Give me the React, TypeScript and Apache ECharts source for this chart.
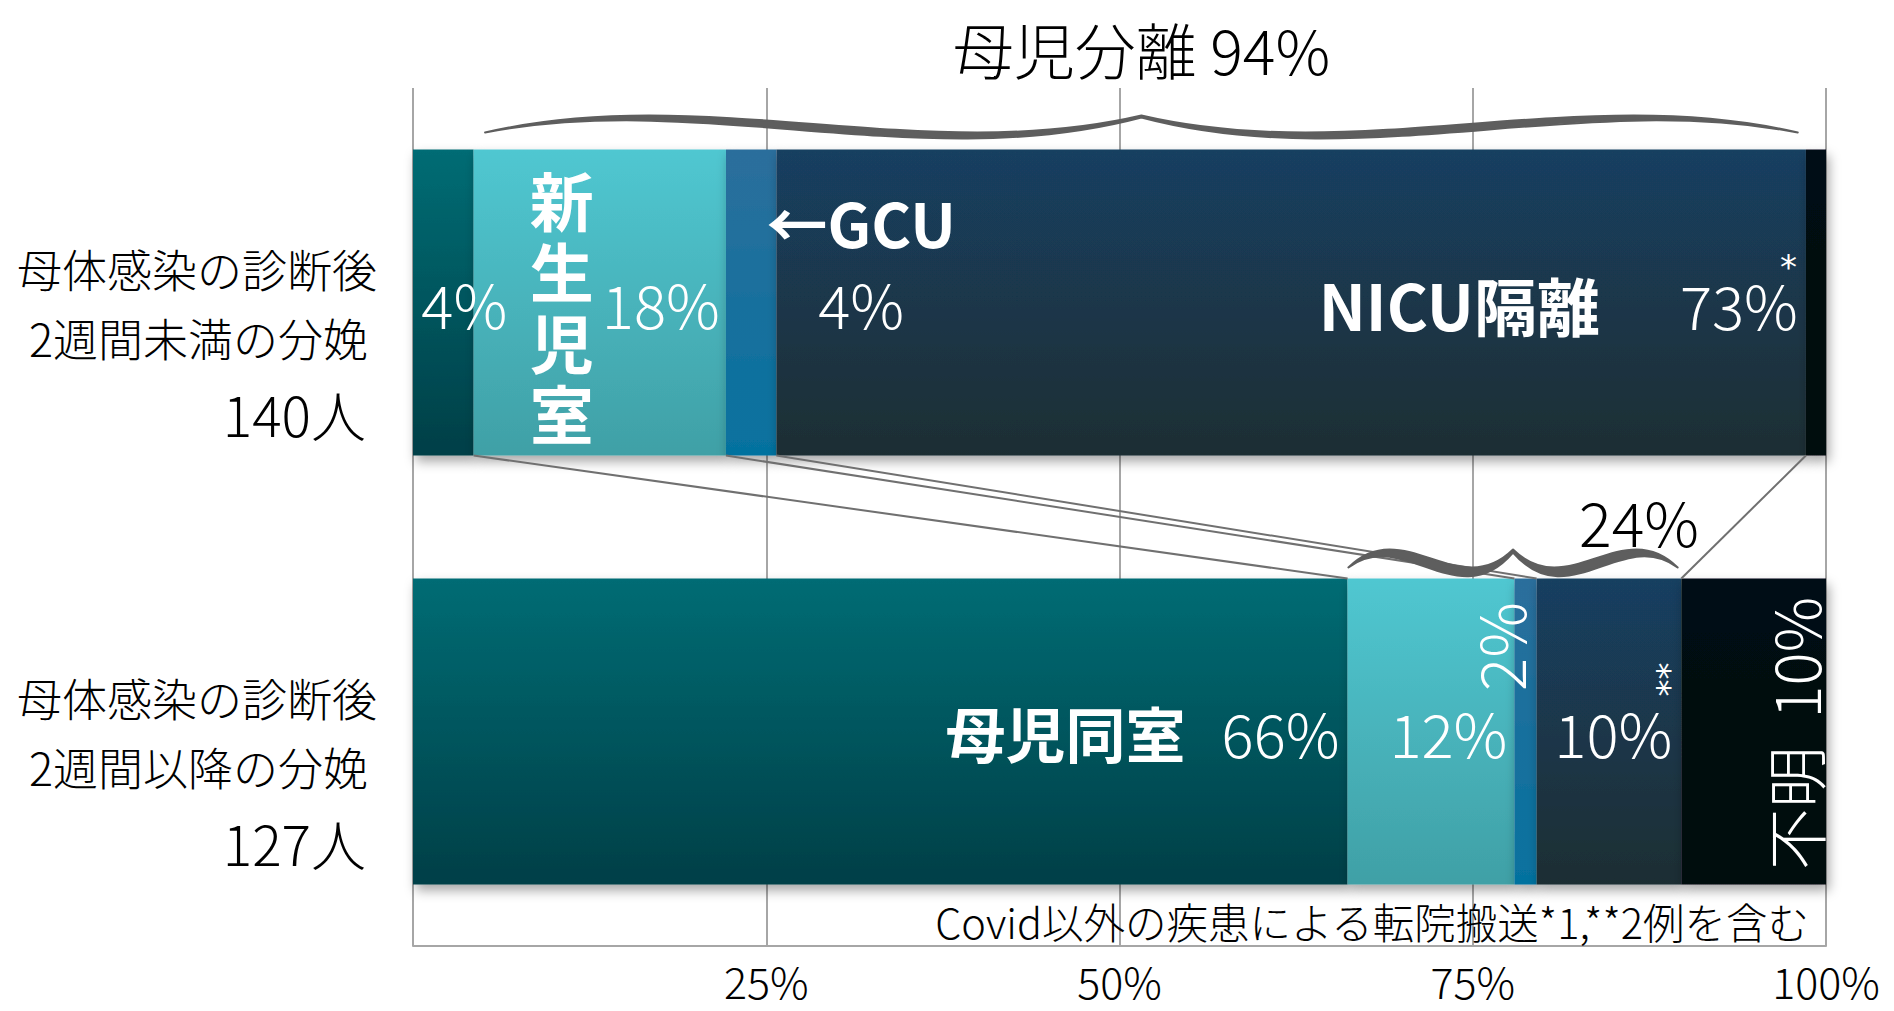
import React, { useEffect, useRef } from "react";
import * as echarts from "echarts";

// ---------- data ----------
const CATEGORIES = [
  "母体感染の診断後\n2週間未満の分娩\n140人",
  "母体感染の診断後\n2週間以降の分娩\n127人",
];
const SERIES_NAMES = ["母児同室", "新生児室", "GCU", "NICU隔離", "不明"];
// percent of each group: [<2 weeks (140), >=2 weeks (127)]
const ROOMING_IN = [4.29, 66.14];
const NURSERY = [17.86, 11.81];
const GCU_VALUES = [3.57, 1.57];
const NICU = [72.86, 10.24];
const UNKNOWN = [1.43, 10.24];
const X_TICKS = [0, 25, 50, 75, 100];
const TOP_BRACE = [5.1, 98.0];
const BOTTOM_BRACE = [66.2, 89.5];
const TITLE_TEXT = "母児分離 94%";
const BRACE2_TEXT = "24%";
const NOTE_TEXT = "Covid以外の疾患による転院搬送*1,**2例を含む";
const VERTICAL_TEXT = "新生児室";
const UNKNOWN_TEXT = "不明";

const VALUES = [ROOMING_IN, NURSERY, GCU_VALUES, NICU, UNKNOWN];

// ---------- style ----------
const FONT = "'Noto Sans CJK JP', 'Noto Sans', sans-serif";
const AST_FONT = "'DejaVu Sans', sans-serif";
const COLORS = [
  ["#036c74", "#023f47"],
  ["#50c7d1", "#40a0a6"],
  ["#2c6e9c", "#05729f"],
  ["#193f61", "#1b2e33"],
  ["#020b13", "#02080d"],
];
const BAR_W = 306;
const GRID_COLOR = "#a6a6a6";
const BRACE_COLOR = "#5e5e5e";
const W = "#ffffff";

const pct = (v: number) => Math.round(v) + "%";
const light = { fontFamily: FONT, fontWeight: 300, fontSize: 60, color: W };
const bold = { fontFamily: FONT, fontWeight: 700, fontSize: 60, color: W };

function labelFor(s: number, r: number): any {
  if (s === 0 && r === 0)
    return { show: true, position: "inside", offset: [21, 0], ...light, formatter: (p: any) => pct(p.value) };
  if (s === 0 && r === 1)
    return {
      show: true, position: "insideRight", distance: 8,
      formatter: (p: any) => `{b|${p.seriesName}}{g| }{n|${pct(p.value)}}`,
      rich: { b: { ...bold, lineHeight: 70 }, g: { width: 36, fontSize: 20 }, n: { ...light, lineHeight: 70 } },
    };
  if (s === 1 && r === 0)
    return { show: true, position: "inside", offset: [61, 0], ...light, formatter: (p: any) => pct(p.value) };
  if (s === 1 && r === 1)
    return { show: true, position: "insideRight", distance: 7, ...light, formatter: (p: any) => pct(p.value) };
  if (s === 2 && r === 0)
    return {
      show: true, position: "inside", offset: [110, -41],
      formatter: (p: any) => `{b|←${p.seriesName}}\n{n|${pct(p.value)}}`,
      rich: { b: { ...bold, fontSize: 61, lineHeight: 81 }, n: { ...light, lineHeight: 81 } },
    };
  if (s === 3 && r === 0)
    return {
      show: true, position: "insideRight", distance: 8, offset: [0, 1],
      formatter: (p: any) => `{b|${p.seriesName}}{g| }{n|${pct(p.value)}}`,
      rich: {
        b: { ...bold, fontSize: 63, lineHeight: 70 },
        g: { width: 80, fontSize: 20 },
        n: { ...light, lineHeight: 70 },
      },
    };
  if (s === 3 && r === 1)
    return { show: true, position: "insideRight", distance: 9, ...light, formatter: (p: any) => pct(p.value) };
  return { show: false };
}

function bracePath(xL: number, xR: number, yB: number, yT: number, thick: number, tipThick: number) {
  const m = (xL + xR) / 2;
  const h = m - xL;
  const d = yB - yT;
  const up = yB - 3 * d;
  const dn = yB + 2 * d;
  return (
    `M${xL} ${yB} C${xL + h / 3} ${up} ${xL + (2 * h) / 3} ${dn} ${m} ${yT} ` +
    `C${m + h / 3} ${dn} ${m + (2 * h) / 3} ${up} ${xR} ${yB} ` +
    `C${m + (2 * h) / 3} ${up + thick} ${m + h / 3} ${dn + thick} ${m} ${yT + tipThick} ` +
    `C${xL + (2 * h) / 3} ${dn + thick} ${xL + h / 3} ${up + thick} ${xL} ${yB} Z`
  );
}

export default function App() {
  const ref = useRef<HTMLDivElement>(null);

  useEffect(() => {
    if (!ref.current) return;
    const chart = echarts.init(ref.current, null, { renderer: "svg" });

    const series = SERIES_NAMES.map((name, s) => ({
      name,
      type: "bar",
      stack: "total",
      barWidth: BAR_W,
      itemStyle: {
        color: {
          type: "linear", x: 0, y: 0, x2: 0, y2: 1,
          colorStops: [
            { offset: 0, color: COLORS[s][0] },
            { offset: 1, color: COLORS[s][1] },
          ],
        },
        shadowBlur: 12,
        shadowOffsetX: 3,
        shadowOffsetY: 6,
        shadowColor: "rgba(0,0,0,0.35)",
      },
      data: VALUES[s].map((v, r) => ({ value: v, label: labelFor(s, r) })),
    }));

    const option: any = {
      animation: false,
      backgroundColor: "#ffffff",
      textStyle: { fontFamily: FONT },
      grid: { left: 413, right: 68, top: 88, bottom: 65, containLabel: false },
      xAxis: {
        type: "value",
        min: X_TICKS[0],
        max: X_TICKS[X_TICKS.length - 1],
        interval: X_TICKS[1] - X_TICKS[0],
        axisLine: { show: true, lineStyle: { color: GRID_COLOR, width: 2 } },
        axisTick: { show: false },
        splitLine: { show: true, lineStyle: { color: GRID_COLOR, width: 2 } },
        axisLabel: {
          formatter: (v: number) => (v === 0 ? "" : v + "%"),
          fontSize: 43,
          lineHeight: 40,
          fontWeight: 300,
          fontFamily: FONT,
          color: "#000",
          margin: 14,
        },
      },
      yAxis: {
        type: "category",
        inverse: true,
        data: CATEGORIES,
        axisLine: { show: false },
        axisTick: { show: false },
        splitLine: { show: false },
        axisLabel: {
          margin: 36,
          padding: [82, 0, 0, 0],
          formatter: (v: string) => {
            const l = v.split("\n");
            return `{a|${l[0]}}\n{c|${l[1]}}\n{b|${l[2]}}`;
          },
          rich: {
            a: { fontFamily: FONT, fontWeight: 300, fontSize: 45, lineHeight: 69, color: "#000" },
            c: { fontFamily: FONT, fontWeight: 300, fontSize: 45, lineHeight: 69, color: "#000", padding: [0, 9, 0, 0] },
            b: { fontFamily: FONT, fontWeight: 300, fontSize: 55, lineHeight: 81, color: "#000", padding: [0, 11, 0, 0] },
          },
        },
      },
      series,
    };
    chart.setOption(option);

    const px = (v: number, r: number) => chart.convertToPixel({ gridIndex: 0 }, [v, r]) as number[];
    const cum = (r: number, k: number) => {
      let t = 0;
      for (let i = 0; i < k; i++) t += VALUES[i][r];
      return t;
    };
    const cy0 = px(0, 0)[1];
    const cy1 = px(0, 1)[1];
    const topTop = cy0 - BAR_W / 2;
    const topBot = cy0 + BAR_W / 2;
    const botTop = cy1 - BAR_W / 2;
    const botBot = cy1 + BAR_W / 2;

    // braces
    const tbL = px(TOP_BRACE[0], 0)[0];
    const tbR = px(TOP_BRACE[1], 0)[0];
    const bbL = px(BOTTOM_BRACE[0], 1)[0];
    const bbR = px(BOTTOM_BRACE[1], 1)[0];
    echarts.graphic.registerShape(
      "braceTop",
      echarts.graphic.extendPath(bracePath(tbL, tbR, topTop - 17, topTop - 34, 9, 2), {})
    );
    echarts.graphic.registerShape(
      "braceBottom",
      echarts.graphic.extendPath(bracePath(bbL, bbR, botTop - 11, botTop - 29, 13, 3), {})
    );

    const graphics: any[] = [];
    // connector lines
    for (let k = 1; k <= 4; k++) {
      const x1 = px(cum(0, k), 0)[0];
      const x2 = px(cum(1, k), 1)[0];
      graphics.push({
        type: "line",
        z: 5,
        silent: true,
        shape: { x1, y1: topBot, x2, y2: botTop },
        style: { stroke: "#707070", lineWidth: 2 },
      });
    }
    graphics.push({
      type: "braceTop", z: 6, silent: true,
      style: { fill: BRACE_COLOR, stroke: BRACE_COLOR, lineWidth: 2, lineJoin: "round" },
    });
    graphics.push({
      type: "braceBottom", z: 6, silent: true,
      style: { fill: BRACE_COLOR, stroke: BRACE_COLOR, lineWidth: 2, lineJoin: "round" },
    });

    // title over top brace
    graphics.push({
      type: "text", z: 10, x: (tbL + tbR) / 2, y: 48,
      style: { text: TITLE_TEXT, fill: "#000", fontFamily: FONT, fontWeight: 300, fontSize: 61, align: "center", verticalAlign: "middle" },
    });
    // 24% over bottom brace
    graphics.push({
      type: "text", z: 10, x: (bbL + bbR) / 2 + 126, y: botTop - 58,
      style: { text: BRACE2_TEXT, fill: "#000", fontFamily: FONT, fontWeight: 300, fontSize: 61, align: "center", verticalAlign: "middle" },
    });
    // vertical 新生児室 (one glyph per element)
    const vx = px(cum(0, 1) + NURSERY[0] / 2, 0)[0] - 38;
    VERTICAL_TEXT.split("").forEach((ch, i, arr) => {
      graphics.push({
        type: "text", z: 10,
        x: vx,
        y: cy0 + 2 + (i - (arr.length - 1) / 2) * 71,
        style: {
          text: ch, fill: W, fontFamily: FONT, fontWeight: 700, fontSize: 64,
          align: "center", verticalAlign: "middle",
        },
      });
    });
    // asterisk on NICU 73%
    graphics.push({
      type: "text", z: 10,
      x: px(cum(0, 4), 0)[0] - 9,
      y: cy0 - 36,
      style: { text: "*", fill: W, fontFamily: AST_FONT, fontSize: 34, align: "right", verticalAlign: "middle" },
    });
    // rotated 2%
    graphics.push({
      type: "text", z: 10, rotation: Math.PI / 2,
      x: px(cum(1, 2) + GCU_VALUES[1] / 2, 1)[0] - 27,
      y: cy1 - 85,
      style: { text: pct(GCU_VALUES[1]), fill: W, fontFamily: FONT, fontWeight: 300, fontSize: 62, align: "center", verticalAlign: "middle" },
    });
    // rotated **
    graphics.push({
      type: "text", z: 10, rotation: Math.PI / 2,
      x: px(cum(1, 4), 1)[0] - 12,
      y: cy1 - 52,
      style: { text: "**", fill: W, fontFamily: AST_FONT, fontSize: 34, align: "center", verticalAlign: "middle" },
    });
    // rotated 不明 10%
    graphics.push({
      type: "text", z: 10, rotation: Math.PI / 2,
      x: px(100, 1)[0] - 32,
      y: cy1 + 2,
      style: { text: UNKNOWN_TEXT + "  " + pct(UNKNOWN[1]), fill: W, fontFamily: FONT, fontWeight: 300, fontSize: 62, align: "center", verticalAlign: "middle" },
    });
    // note
    graphics.push({
      type: "text", z: 10,
      x: px(100, 1)[0] - 17,
      y: botBot + 36,
      style: { text: NOTE_TEXT, fill: "#000", fontFamily: FONT, fontWeight: 300, fontSize: 41.5, align: "right", verticalAlign: "middle" },
    });

    chart.setOption({ graphic: graphics });

    return () => chart.dispose();
  }, []);

  return (
    <div
      ref={ref}
      style={{ position: "fixed", left: 0, top: 0, width: 1894, height: 1011, background: "#fff" }}
    />
  );
}
